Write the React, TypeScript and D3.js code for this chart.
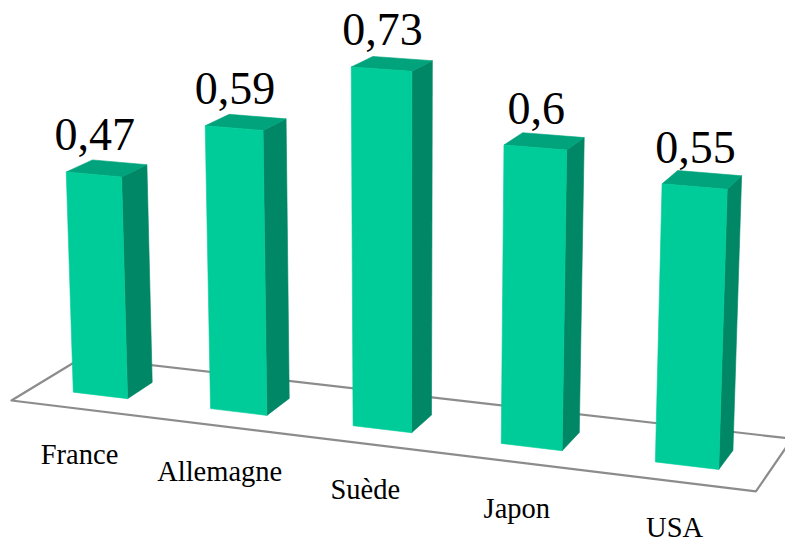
import React from 'react';
import * as d3 from 'd3';

const categories = ['France', 'Allemagne', 'Suède', 'Japon', 'USA'];
const values = [0.47, 0.59, 0.73, 0.6, 0.55];

const WIDTH = 785;
const HEIGHT = 542;

// camera (3x4 projection, last term = 1) for world x = category band, y = height, z = depth
const CAM = [
  132.5787, -1.784829, 27.29815, 33.11632,
  8.793784, -47.34521, -8.619132, 387.3621,
  -0.01849965, -0.00439664, 0.01954927,
];

const project = (X: number, Y: number, Z: number): [number, number] => {
  const w = CAM[8] * X + CAM[9] * Y + CAM[10] * Z + 1;
  return [
    (CAM[0] * X + CAM[1] * Y + CAM[2] * Z + CAM[3]) / w,
    (CAM[4] * X + CAM[5] * Y + CAM[6] * Z + CAM[7]) / w,
  ];
};

const FRONT = '#00cc99';
const SIDE = '#008765';
const TOP = '#00a37b';

const fmt = d3.formatLocale({ decimal: ',', thousands: ' ', grouping: [3], currency: ['', ' €'] }).format('~g');

export default function App() {
  // x: bars across the floor, y: value -> world height, z: bar depth 0..1, floor a bit larger
  const x = d3.scaleBand<string>().domain(categories).range([0, 5]).paddingInner(0.6).paddingOuter(0.3);
  const y = d3.scaleLinear().domain([0, 1]).range([0, 10]);
  const floorZ = [-0.8, 1.93];

  const poly = d3.line<[number, number, number]>()
    .x(p => project(p[0], p[1], p[2])[0])
    .y(p => project(p[0], p[1], p[2])[1])
    .curve(d3.curveLinearClosed);

  const [x0, x1] = x.range();
  const floor: [number, number, number][] = [
    [x0, 0, floorZ[0]], [x1, 0, floorZ[0]], [x1, 0, floorZ[1]], [x0, 0, floorZ[1]],
  ];

  return (
    <svg width={WIDTH} height={HEIGHT} style={{ position: 'absolute', left: 0, top: 0, background: '#fff' }}>
      <path d={poly(floor) || ''} fill="#fff" stroke="#8c8c8c" strokeWidth={2.2} strokeLinejoin="round" />
      {categories.map((c, i) => {
        const L = x(c)!, R = L + x.bandwidth(), h = y(values[i]);
        const front: [number, number, number][] = [[L, 0, 0], [R, 0, 0], [R, h, 0], [L, h, 0]];
        const side: [number, number, number][] = [[R, 0, 0], [R, 0, 1], [R, h, 1], [R, h, 0]];
        const top: [number, number, number][] = [[L, h, 0], [R, h, 0], [R, h, 1], [L, h, 1]];
        return (
          <g key={c}>
            <path d={poly(side) || ''} fill={SIDE} stroke={SIDE} strokeWidth={0.6} />
            <path d={poly(top) || ''} fill={TOP} stroke={TOP} strokeWidth={0.6} />
            <path d={poly(front) || ''} fill={FRONT} stroke={FRONT} strokeWidth={0.6} />
          </g>
        );
      })}
      {categories.map((c, i) => {
        const cx = x(c)! + x.bandwidth() / 2;
        const [vx, vy] = project(cx, y(values[i]), 0);
        const [lx, ly] = project(cx, 0, floorZ[0]);
        return (
          <g key={'t' + c} fontFamily="'Liberation Serif', 'Times New Roman', serif" fill="#000" textAnchor="middle">
            <text x={vx + 1} y={vy - 24} fontSize={46}>{fmt(values[i])}</text>
            <text x={lx} y={ly + 55.5} fontSize={28.5}>{c}</text>
          </g>
        );
      })}
    </svg>
  );
}
